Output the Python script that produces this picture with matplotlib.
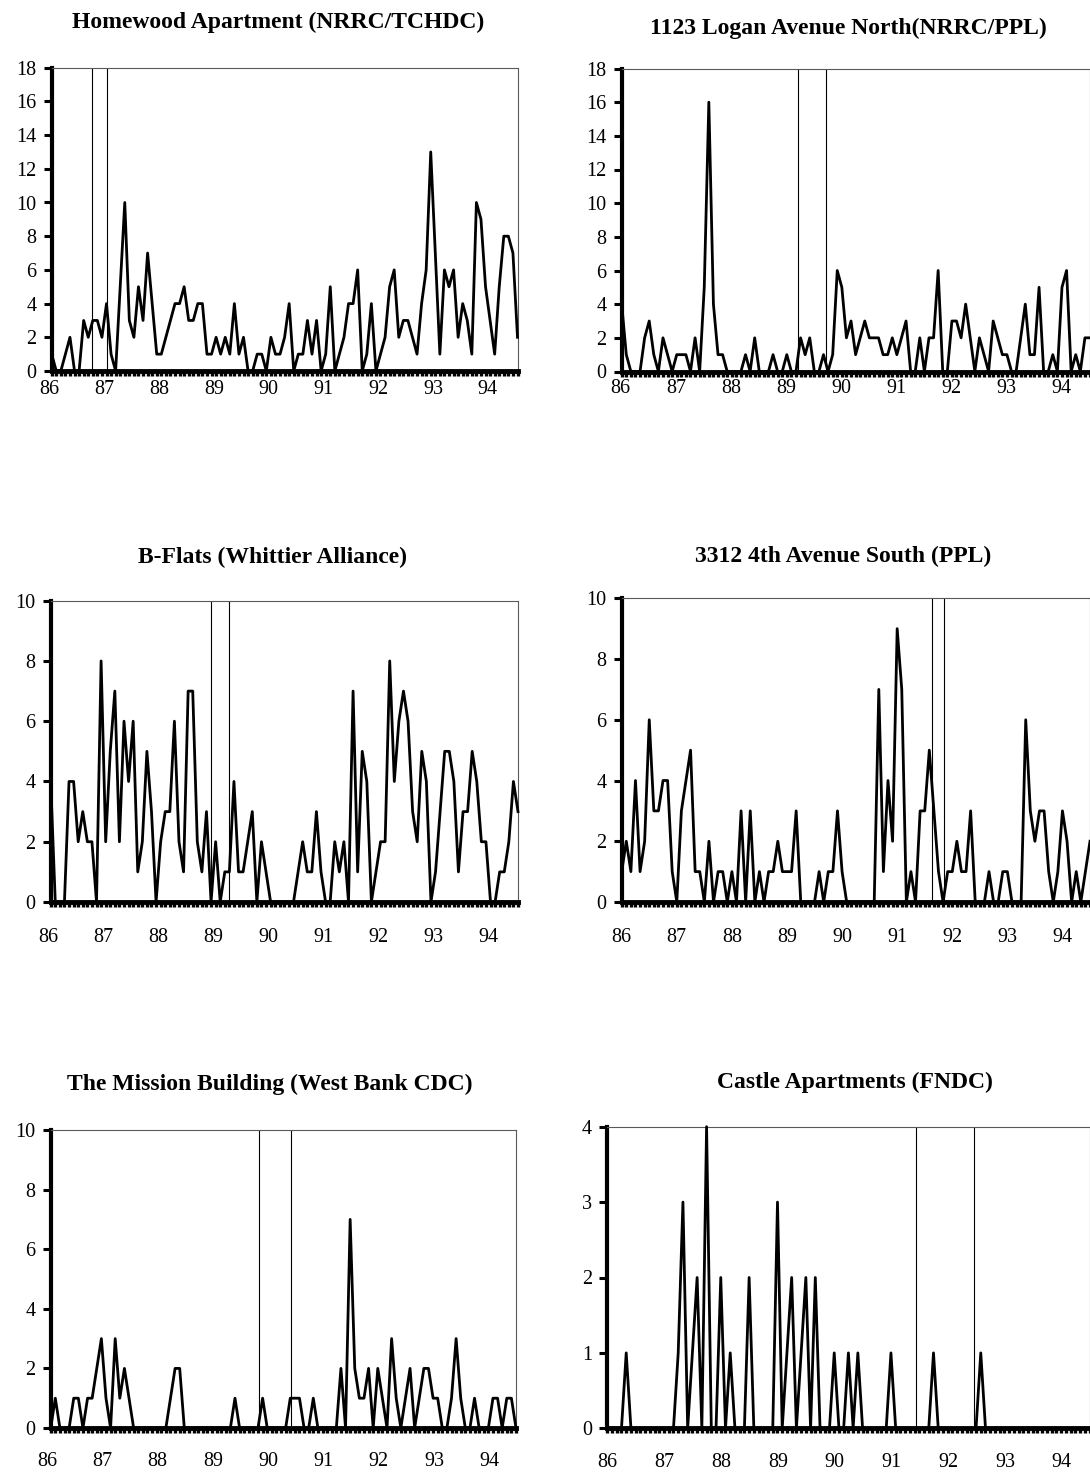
import numpy as np
import matplotlib.pyplot as plt

plt.rcParams['font.family'] = ['Liberation Serif', 'DejaVu Serif']

W, H = 1090, 1474

years = ['86', '87', '88', '89', '90', '91', '92', '93', '94']

# monthly counts, Jan 1986 onwards
homewood = [1, 0, 0, 1, 2, 0, 0, 3, 2, 3, 3, 2, 4, 1, 0, 5, 10, 3, 2, 5,
            3, 7, 4, 1, 1, 2, 3, 4, 4, 5, 3, 3, 4, 4, 1, 1, 2, 1, 2, 1,
            4, 1, 2, 0, 0, 1, 1, 0, 2, 1, 1, 2, 4, 0, 1, 1, 3, 1, 3, 0,
            1, 5, 0, 1, 2, 4, 4, 6, 0, 1, 4, 0, 1, 2, 5, 6, 2, 3, 3, 2,
            1, 4, 6, 13, 7, 1, 6, 5, 6, 2, 4, 3, 1, 10, 9, 5, 3, 1, 5, 8,
            8, 7, 2]
logan = [4, 1, 0, 0, 0, 2, 3, 1, 0, 2, 1, 0, 1, 1, 1, 0, 2, 0, 5, 16,
         4, 1, 1, 0, 0, 0, 0, 1, 0, 2, 0, 0, 0, 1, 0, 0, 1, 0, 0, 2,
         1, 2, 0, 0, 1, 0, 1, 6, 5, 2, 3, 1, 2, 3, 2, 2, 2, 1, 1, 2,
         1, 2, 3, 0, 0, 2, 0, 2, 2, 6, 0, 0, 3, 3, 2, 4, 2, 0, 2, 1,
         0, 3, 2, 1, 1, 0, 0, 2, 4, 1, 1, 5, 0, 0, 1, 0, 5, 6, 0, 1,
         0, 2, 2]
bflats = [4, 0, 0, 0, 4, 4, 2, 3, 2, 2, 0, 8, 2, 5, 7, 2, 6, 4, 6, 1,
          2, 5, 3, 0, 2, 3, 3, 6, 2, 1, 7, 7, 2, 1, 3, 0, 2, 0, 1, 1,
          4, 1, 1, 2, 3, 0, 2, 1, 0, 0, 0, 0, 0, 0, 1, 2, 1, 1, 3, 1,
          0, 0, 2, 1, 2, 0, 7, 1, 5, 4, 0, 1, 2, 2, 8, 4, 6, 7, 6, 3,
          2, 5, 4, 0, 1, 3, 5, 5, 4, 1, 3, 3, 5, 4, 2, 2, 0, 0, 1, 1,
          2, 4, 3]
fourth_ave = [1, 2, 1, 4, 1, 2, 6, 3, 3, 4, 4, 1, 0, 3, 4, 5, 1, 1, 0, 2,
              0, 1, 1, 0, 1, 0, 3, 0, 3, 0, 1, 0, 1, 1, 2, 1, 1, 1, 3, 0,
              0, 0, 0, 1, 0, 1, 1, 3, 1, 0, 0, 0, 0, 0, 0, 0, 7, 1, 4, 2,
              9, 7, 0, 1, 0, 3, 3, 5, 3, 1, 0, 1, 1, 2, 1, 1, 3, 0, 0, 0,
              1, 0, 0, 1, 1, 0, 0, 0, 6, 3, 2, 3, 3, 1, 0, 1, 3, 2, 0, 1,
              0, 1, 2]
mission = [0, 1, 0, 0, 0, 1, 1, 0, 1, 1, 2, 3, 1, 0, 3, 1, 2, 1, 0, 0,
           0, 0, 0, 0, 0, 0, 1, 2, 2, 0, 0, 0, 0, 0, 0, 0, 0, 0, 0, 0,
           1, 0, 0, 0, 0, 0, 1, 0, 0, 0, 0, 0, 1, 1, 1, 0, 0, 1, 0, 0,
           0, 0, 0, 2, 0, 7, 2, 1, 1, 2, 0, 2, 1, 0, 3, 1, 0, 1, 2, 0,
           1, 2, 2, 1, 1, 0, 0, 1, 3, 1, 0, 0, 1, 0, 0, 0, 1, 1, 0, 1,
           1, 0]
castle = [0, 0, 0, 0, 1, 0, 0, 0, 0, 0, 0, 0, 0, 0, 0, 1, 3, 0, 1, 2,
          0, 4, 0, 0, 2, 0, 1, 0, 0, 0, 2, 0, 0, 0, 0, 0, 3, 0, 1, 2,
          0, 1, 2, 0, 2, 0, 0, 0, 1, 0, 0, 1, 0, 1, 0, 0, 0, 0, 0, 0,
          1, 0, 0, 0, 0, 0, 0, 0, 0, 1, 0, 0, 0, 0, 0, 0, 0, 0, 0, 1,
          0, 0, 0, 0, 0, 0, 0, 0, 0, 0, 0, 0, 0, 0, 0, 0, 0, 0, 0, 0,
          0, 0, 0]

titles = ['Homewood Apartment (NRRC/TCHDC)',
          '1123 Logan Avenue North(NRRC/PPL)',
          'B-Flats (Whittier Alliance)',
          '3312 4th Avenue South (PPL)',
          'The Mission Building (West Bank CDC)',
          'Castle Apartments (FNDC)']
series = [homewood, logan, bflats, fourth_ave, mission, castle]
ymaxes = [18, 18, 10, 10, 10, 4]
ysteps = [2, 2, 2, 2, 2, 1]
# project period markers (month index)
marks = [(8.8, 12.1), (38.5, 44.5), (35.0, 38.9), (67.5, 70.3), (45.2, 52.2), (65.2, 77.6)]

# layout in pixels: left, top, right, bottom
boxes = [(51.7, 67.7, 517.5, 371), (621.7, 68.5, 1089.5, 371.5),
         (50.7, 600.7, 518, 902), (621.7, 598.3, 1090, 902),
         (50.7, 1130, 516, 1428), (607.3, 1126.7, 1089.5, 1428.3)]
title_pos = [(278, 22), (848, 28), (272, 557), (843, 556), (270, 1084), (855, 1082)]
lab_shift = [-0.5, -0.2, -0.5, 0.0, -0.8, 0.1]
lab_drop = [18, 17, 36, 36, 34, 34]

fig = plt.figure(figsize=(W / 100, H / 100), dpi=100)

for k in range(6):
    l, t, r, b = boxes[k]
    ax = fig.add_axes([l / W, 1 - b / H, (r - l) / W, (b - t) / H])
    vals = series[k]
    x = np.arange(len(vals))
    ax.plot(x, vals, color='black', lw=2.0, clip_on=False, zorder=3)
    for m in marks[k]:
        ax.axvline(m, color='black', lw=0.8, zorder=2)
    ax.set_xlim(0, len(vals) - 1)
    ax.set_ylim(0, ymaxes[k])
    ax.set_yticks(np.arange(0, ymaxes[k] + 1, ysteps[k]))
    ax.set_xticks([])
    ax.set_xticks(x, minor=True)
    ax.tick_params(axis='y', direction='out', length=6, width=2.2, labelsize=14.5, pad=5)
    ax.tick_params(axis='x', which='minor', direction='out', length=3.5, width=2.4)
    ax.spines['left'].set_linewidth(3)
    ax.spines['bottom'].set_linewidth(3.5)
    for s in ['top', 'right']:
        ax.spines[s].set_linewidth(0.8)
        ax.spines[s].set_color('0.35')
    for j, yr in enumerate(years):
        ax.annotate(yr, xy=(12 * j + lab_shift[k], 0), xycoords=('data', 'axes fraction'),
                    xytext=(0, -lab_drop[k] * 0.72), textcoords='offset points',
                    ha='center', va='center', fontsize=14.5, annotation_clip=False)
    tx, ty = title_pos[k]
    fig.text(tx / W, 1 - ty / H, titles[k], ha='center', va='center',
             fontsize=17, fontweight='bold')

fig.savefig('out.png', dpi=100)
